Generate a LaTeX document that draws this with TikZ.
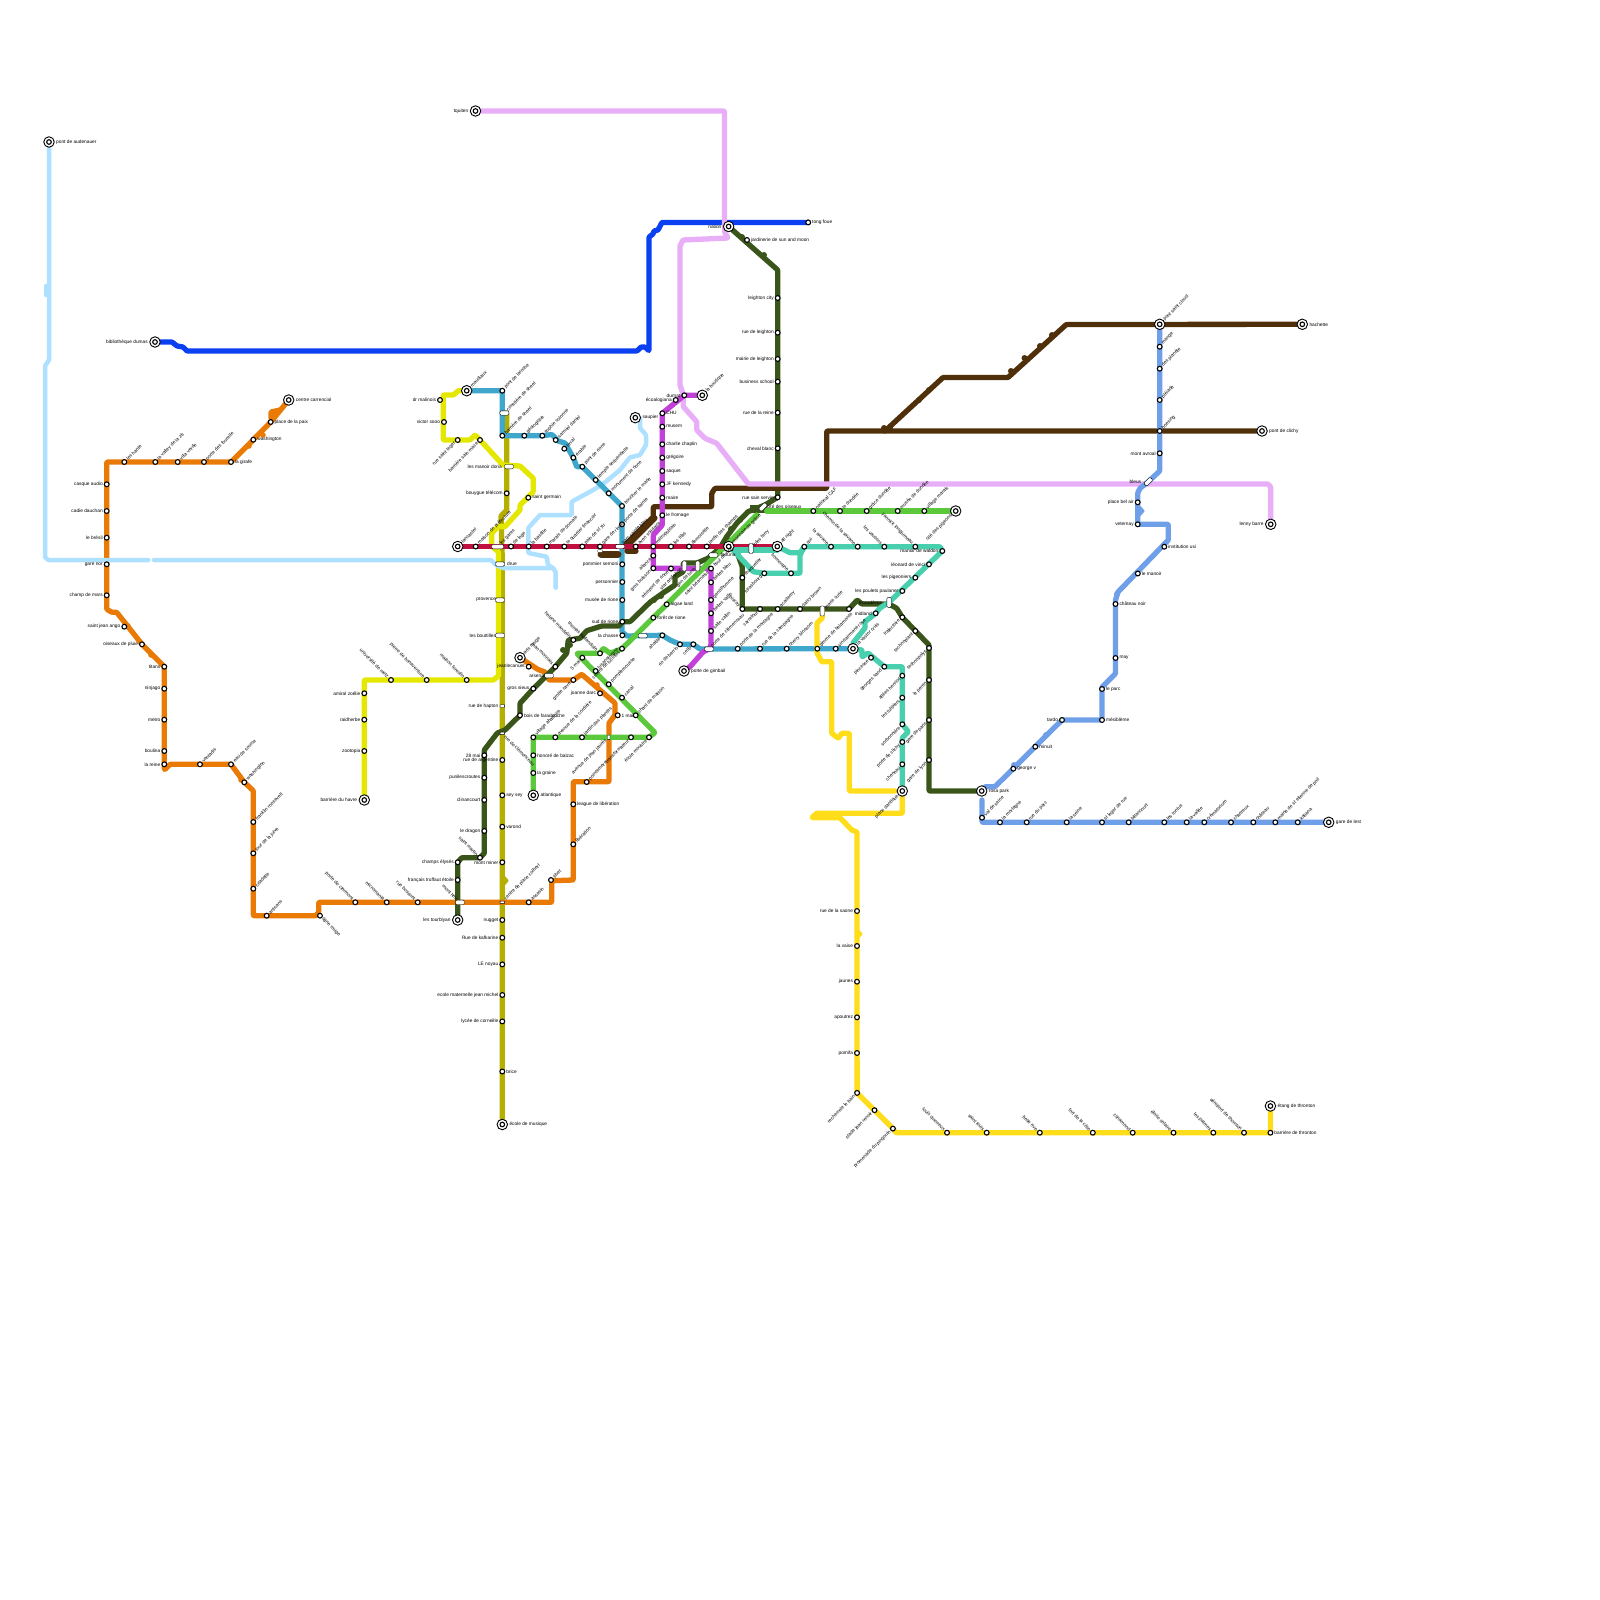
\documentclass[tikz,border=0pt]{standalone}
\usepackage{fontspec}
\setmainfont{Liberation Sans}
\usepackage{xcolor}
\usetikzlibrary{backgrounds}
\definecolor{lineorange}{RGB}{232, 122, 5}
\definecolor{lineyellow}{RGB}{228, 232, 0}
\definecolor{lineolive}{RGB}{181, 176, 0}
\definecolor{linesky}{RGB}{174, 224, 255}
\definecolor{linedeep}{RGB}{10, 63, 242}
\definecolor{linelilac}{RGB}{232, 174, 248}
\definecolor{linepetrol}{RGB}{63, 167, 204}
\definecolor{linecrimson}{RGB}{192, 16, 63}
\definecolor{linemagenta}{RGB}{192, 64, 216}
\definecolor{lineforest}{RGB}{58, 85, 25}
\definecolor{linegreen}{RGB}{92, 200, 60}
\definecolor{linemint}{RGB}{72, 207, 174}
\definecolor{linegold}{RGB}{255, 221, 26}
\definecolor{linebrown}{RGB}{80, 48, 10}
\definecolor{lineperi}{RGB}{111, 159, 232}
\tikzset{
  metro/.style={line width=5.3pt, line cap=round, line join=round, rounded corners=0.8pt},
  stn/.style={circle, draw=black, fill=white, line width=1.1pt, inner sep=0pt, minimum size=4.8pt},
  term/.style={circle, draw=black, fill=white, line width=0.9pt, inner sep=0pt, minimum size=10.5pt,
    path picture={\draw[line width=1.1pt] (path picture bounding box.center) circle (2.3pt);}},
  ibox/.style={rectangle, rounded corners=1.2pt, draw=black, fill=white, line width=0.4pt, inner sep=0pt, minimum width=9pt, minimum height=4.4pt},
  wbox/.style={ibox, minimum width=12pt},
  vbox/.style={ibox, minimum width=4.4pt, minimum height=10pt},
  sbox/.style={ibox, rounded corners=0.3pt, minimum width=4.5pt, minimum height=2.5pt},
  svbox/.style={ibox, rounded corners=0.3pt, minimum width=2.5pt, minimum height=4.5pt},
  rbox/.style={ibox, rotate=45},
  lbl/.style={font=\fontsize{4.8}{6}\selectfont, text=black, inner ysep=0pt, inner xsep=3.8pt},
  lr/.style={lbl, anchor=west},
  ll/.style={lbl, anchor=east},
  lne/.style={lbl, rotate=45, anchor=west},
  lsw/.style={lbl, rotate=45, anchor=east},
  lnw/.style={lbl, rotate=-45, anchor=east},
  lse/.style={lbl, rotate=-45, anchor=west},
  tr/.style={lr, inner xsep=7pt},
  tl/.style={ll, inner xsep=7pt},
  tne/.style={lne, inner xsep=6pt},
  tsw/.style={lsw, inner xsep=6pt}
}
\begin{document}
\begin{tikzpicture}[x=1pt, y=-1pt]
  \useasboundingbox (0,0) rectangle (1600,1600);
  % stations, line by line
  \foreach \nm/\shp/\x/\y/\p/\txt in {
    or1/term/288.7/400/tr/centre carrencial, or2/stn/270.7/422/lr/place de la paix, or3/stn/253.3/439.7/lr/washington,
    or4/stn/231/462/lr/la girafe, or5/stn/204/462/lne/porte des tourelle, or6/stn/177.7/462/lne/villa verde,
    or7/stn/155.3/462/lne/la valley de la zic, or8/stn/124.3/462/lne/les hante, or9/stn/106.7/484.3/ll/casque audio,
    or10/stn/106.7/511/ll/cadie dauchan, or11/stn/106.7/537.7/ll/le brésil, or12/stn/106.7/564.3/ll/gare nor,
    or13/stn/106.7/595.3/ll/champ de mars, or14/stn/124.3/626.7/ll/saint jean ango, or15/stn/142/644.3/ll/oiseaux de pluie,
    or16/stn/164.3/666.7/ll/titans, or17/stn/164.3/688.7/ll/ninjago, or18/stn/164.3/719.7/ll/metro,
    or19/stn/164.3/751/ll/boulina, or20/stn/164.3/764.3/ll/la reine, or21/stn/200/764.3/lne/ventadis,
    or22/stn/231/764.3/lne/eau de source, or23/stn/244.3/782.3/lne/washington, or24/stn/253.3/822/lne/franklin roosevelt,
    or25/stn/253.3/853.3/lne/tour de la juive, or26/stn/253.3/888.7/lne/citadelle, or27/stn/266.7/915.7/lne/artisans,
    or28/stn/320/915.7/lse/ligne rouge, or29/stn/355.3/902.3/lnw/porte de clermont, or30/stn/386.7/902.3/lnw/micromania,
    or31/stn/417.7/902.3/lnw/rue bossuet, or32/stn/528.7/902.3/lne/assasin, or33/stn/551/880/lne/tibet,
    or34/stn/573.3/844.3/lne/libération, or35/stn/573.3/804.3/lr/league de libération, or36/stn/586.7/782/lne/pointemere,
    or37/stn/600/693.3/ll/joanne darc, or38/stn/573.3/680/lsw/grotte cave, or39/stn/528.7/666.7/ll/jeanlecanuet,
    or40/term/520/657.7/tne/arts rouge, or41/stn/617.7/715.3/lr/1 mai, or42/ibox/549/675.7/ll/arsenal,
    or43/svbox/608.7/737.3/lsw/avenue de jean jaurès,
    ye1/term/364.3/800/tl/barrière du havre, ye2/stn/364.3/751/ll/zootopia, ye3/stn/364.3/719.7/ll/raidherbe,
    ye4/stn/364.3/693.3/ll/amiral zoélie, ye5/stn/391/680/lnw/université de metz, ye6/stn/426.7/680/lnw/pierre de bonaventure,
    ye7/stn/466.7/680/lnw/maison forestin, ye8/ibox/500/635.3/ll/les bouttilles, ye9/ibox/500/600/ll/provence,
    ye10/ibox/500/564/tr/drue, ye11/wbox/497.7/546.7/lne/les gares, ye12/stn/528.3/497.7/lr/saint germain,
    ye13/ibox/509/466.7/tl/les manoir doria, ye14/stn/480/440/lsw/barrière sain mace, ye15/stn/457.7/440/lsw/rue saint leger,
    ye16/stn/444/422/ll/victor sooo, ye17/stn/440/400/ll/dr malinois, ye18/term/466.7/390.7/tne/maudiaux,
    ol1/stn/506.7/493.3/ll/bouygue télécom, ol2/sbox/502.3/706/ll/rue de hapton, ol3/sbox/502.3/733.3/lse/rue de clémenceau,
    ol4/stn/502.3/760/ll/rue de argentine, ol5/stn/502.3/795.3/lr/sey sey, ol6/stn/502.3/826.7/lr/varond,
    ol7/stn/502.3/862.3/ll/mont miner, ol8/sbox/502.3/902.3/lne/centre de place colbert, ol9/stn/502.3/920/ll/nugget,
    ol10/stn/502.3/937.7/ll/Rue de kafkarine, ol11/stn/502.3/964.4/ll/LE noyau, ol12/stn/502.3/995/ll/ecole maternelle jean michel,
    ol13/stn/502.3/1021.4/ll/lycée de corneille, ol14/stn/502.3/1071.5/lr/brice, ol15/term/502.3/1124.5/tr/école de musique
  }{
    \node[\shp] (\nm) at (\x,\y) {};
    \node[\p] (\nm-t) at (\nm.center) {\txt};
  }
  \foreach \nm/\shp/\x/\y/\p/\txt in {
    tb1/stn/502.3/390.7/lne/pont de laroche, tb2/ibox/504.3/413/lne/cimetière de sheet, tb3/stn/502.3/435.7/lne/barrière de sheet,
    tb4/stn/524.3/435.7/lne/géologique, tb5/stn/542.3/435.7/lne/sophie colonne, tb6/stn/555.7/440/lne/samuel daniel,
    tb7/stn/564.3/448.7/lne/laval, tb8/stn/573.3/457.7/lne/érable, tb9/stn/582.3/466.7/lne/pont de rione,
    tb10/stn/595.7/480/lne/temple sequentielle, tb11/stn/608.7/493.3/lne/monument de rione, tb12/stn/622/506/lne/boucher le marie,
    tb13/stn/622/524.3/lne/porte de sainte, tb14/stn/622.3/564.3/ll/pommier semoni, tb15/stn/622.3/582/ll/personnier,
    tb16/stn/622.3/600/ll/musée de rione, tb17/stn/622.3/621.7/ll/sud de rione, tb18/stn/622.3/635.3/ll/la chasse,
    tb19/ibox/642.7/635.7/lr/, tb20/stn/662.3/635.3/lsw/ahaide, tb21/stn/680/644.3/lsw/rio de berrio, tb22/stn/693.3/644.3/lsw/cello,
    tb23/ibox/709/649/lne/porte de clémenceau, tb24/stn/737.7/648.7/lne/porte de la montagne, tb25/stn/760/648.7/lne/rue de la campagne,
    tb26/stn/786.7/648.7/lne/cherry blossom, tb27/stn/817.3/648.7/lne/gimme de belamonte, tb28/stn/835.7/648.7/lne/sinclairmane rose,
    tb29/term/853/648.7/tne/la vastor cruis,
    cr1/term/457.7/546.5/tne/lancaster, cr2/stn/475.7/546.5/lne/maison de préfecture, cr3/stn/511/546.5/lne/de loge,
    cr4/stn/528.7/546.5/lne/la bastille, cr5/stn/546.7/546.5/lne/marais de domale, cr6/stn/564.3/546.5/lne/le quartier financier,
    cr7/stn/582.3/546.5/lne/pain de st yu, cr8/stn/600/546.5/lne/gare de rione, cr9/ibox/620/546.5/lne/parc sainte bleu,
    cr10/stn/635.7/546.5/lne/aven solidaire, cr11/stn/653.3/546.5/lne/métropolitain, cr12/stn/671/546.5/lne/les tilas,
    cr13/stn/689/546.5/lne/demoiselle, cr14/stn/706.7/546.5/lne/jardin des champs, cr15/term/728.7/546.5/tne/monnaie de grâce,
    cr16/vbox/751/548.5/lne/jules ferry, cr17/term/777.3/546.5/tne/all night, cr18/sbox/600/551/lr/,
    mg1/term/702.3/395.3/tne/la boutique, mg2/stn/684.3/395.3/ll/durnat, mg3/stn/675.7/400/ll/écoalogiana,
    mg4/stn/662.3/413.3/lr/CHU, mg5/stn/662.3/426.7/lr/musem, mg6/stn/662.3/444.3/lr/charlie chaplin,
    mg7/stn/662.3/457.7/lr/grégoire, mg8/stn/662.3/471/lr/saquet, mg9/stn/662.3/484.3/lr/JF kennedy,
    mg10/stn/662.3/497.7/lr/maire, mg11/stn/662.3/515.3/lr/le fromage, mg12/stn/653.3/555.7/lsw/aliance,
    mg13/stn/653.3/568.3/lsw/gros buisson, mg14/stn/671/568.5/lsw/aéroport de rione, mg15/vbox/684.3/566/lsw/star and shop,
    mg16/vbox/697.7/566/lsw/gen de lune, mg17/stn/711/568.5/lne/boul de cine, mg18/stn/711/582.3/lne/belles bleu,
    mg19/stn/711/600/lne/gentilhomme, mg20/stn/711/613.3/lne/belles vallin, mg21/stn/711/631/lne/salle vallin,
    mg22/term/684/671/tr/porte de gimbail
  }{
    \node[\shp] (\nm) at (\x,\y) {};
    \node[\p] (\nm-t) at (\nm.center) {\txt};
  }
  \node[lsw] (mg17-w) at (mg17.center) {saint béarnaise};
  \foreach \nm/\shp/\x/\y/\p/\txt in {
    dg1/term/728.6/226.5/tl/nation, dg2/stn/747/240/lr/jardinerie de sun and moon, dg3/stn/777.7/298/ll/leighton city,
    dg4/stn/777.7/332.7/ll/rue de leighton, dg5/stn/777.7/359/ll/mairie de leighton, dg6/stn/777.7/381.7/ll/business school,
    dg7/stn/777.7/412.7/ll/rue de la reine, dg8/stn/777.7/448.3/ll/cheval blanc, dg9/stn/777.7/497.3/ll/rue sain servin,
    dg10/stn/742.3/577.7/lne/chaquetier, dg11/stn/742.3/609/lnw/biscay, dg12/stn/760/609/lsw/carrefour,
    dg13/stn/777.7/609/lne/academy, dg14/stn/800/609/lne/daisy brown, dg15/vbox/822.3/611/lne/marie curie,
    dg16/stn/849/609/lr/, dg17/stn/902.3/617.3/lsw/trajectoire, dg18/stn/915.3/631/lsw/technoplant,
    dg19/stn/929/648/lsw/technopolys, dg20/stn/929/680/lsw/le perrin, dg21/stn/929/720/lsw/gare de paris,
    dg22/stn/929/760/lsw/gare de lyon, dg23/term/981.7/791/tr/rosa park,
    dg24/stn/573.3/640/lnw/helene mandelin, dg25/stn/555.3/666.7/lnw/jean monnais, dg26/stn/533.3/688.7/ll/gros sieus,
    dg27/stn/520/715.3/lr/bois de faradouche, dg28/stn/484.3/755.3/ll/28 mai, dg29/stn/484.3/777.7/ll/punilescroutes,
    dg30/stn/484.3/800/ll/clinancourt, dg31/stn/484.3/831/ll/le dragon, dg32/stn/480/857.7/lnw/saint martin,
    dg33/stn/457.7/862.3/ll/champs élysés, dg34/stn/457.7/880/ll/français truffaut étoile, dg35/ibox/460/902.3/lnw/mont heu,
    dg36/term/457.7/920/tl/les tourblyan,
    gr1/term/955.7/511/tsw/cité des pigeons, gr2/stn/924.3/511/lne/village marais, gr3/stn/897.7/511/lne/musée de dundée,
    gr4/stn/866.7/511/lne/grâce dundée, gr5/stn/840/511/lne/le dundée, gr6/stn/813.3/511/lne/national CAF,
    gr7/rbox/763/507/lr/cité des oiseaux, gr8/stn/666.7/604.3/lr/algae land, gr9/stn/653.3/617.7/lr/forêt de rione,
    gr10/stn/622/648.7/lsw/centre de lucioles, gr11/stn/600/653.3/lnw/thomas hollandiste, gr12/stn/582.3/657.7/lsw/5 mai,
    gr13/stn/595.7/671/lne/lusanstorgne, gr14/stn/608.7/684.3/lne/pomplemousse, gr15/stn/622/697.7/lne/canal,
    gr16/stn/635.7/715.3/lne/chant de maison, gr17/stn/649/737.3/lsw/école moustre, gr18/stn/631/737.3/lsw/transformateur,
    gr19/stn/582/737.3/lne/jardin des plantes, gr20/stn/555.3/737.3/lne/avenue de la cordière, gr21/stn/533.3/737.3/lne/village abattoire,
    gr22/stn/533.3/755.3/lr/honoré de balzac, gr23/stn/533.3/773/lr/la graine, gr24/term/533.3/795.3/tr/atlantique
  }{
    \node[\shp] (\nm) at (\x,\y) {};
    \node[\p] (\nm-t) at (\nm.center) {\txt};
  }
  \foreach \nm/\shp/\x/\y/\p/\txt in {
    mi1/stn/804.3/546.7/lne/qui, mi2/stn/831/546.7/lnw/la savane, mi3/stn/857.7/546.7/lnw/chemin de la savane,
    mi4/stn/884.3/546.7/lnw/les vautrins, mi5/stn/915.3/546.7/lnw/yannick longjumeau, mi6/stn/942.3/551/ll/manoir de waldon,
    mi7/stn/929/564.3/ll/léonard de vinci, mi8/stn/915.3/577.7/ll/les pigeoniers, mi9/stn/902.3/591/ll/les poulets paulaner,
    mi10/vbox/889/602.3/tl/trosadères, mi11/stn/875.7/613.3/ll/midland, mi12/stn/791/573.3/lnw/fromentine,
    mi13/stn/764.3/573.3/lsw/strasbourg, mi14/stn/871/657.7/lsw/pincesse, mi15/stn/884.3/666.7/lsw/georges sand,
    mi16/stn/902.3/675.7/lsw/allées henriot, mi17/stn/902.3/697.7/lsw/les tulipiers, mi18/stn/902.3/724.3/lsw/sorbonnière,
    mi19/stn/902.3/742/lsw/porte de clichy, mi20/stn/902.3/764.3/lsw/cheneau, mi21/term/902.3/791/tsw/place dantique,
    mi22/ibox/713.3/555/tr/fortuna,
    go1/stn/857/911/ll/rue de la saone, go2/stn/857/946/ll/la vaise, go3/stn/857/981.7/ll/jaunes,
    go4/stn/857/1017.3/ll/apoutrez, go5/stn/857/1053/ll/pomifa, go6/stn/857.1/1092.9/lsw/recherrele le bain,
    go7/stn/874.5/1110.2/lsw/stade jean renoir, go8/stn/892.9/1128.6/lsw/promenade du pingouin, go9/stn/947/1132.7/lnw/louis querreux,
    go10/stn/986.7/1132.7/lnw/saint louis, go11/stn/1039.8/1132.7/lnw/belle rive, go12/stn/1092.8/1132.7/lnw/fort de la côte,
    go13/stn/1132.7/1132.7/lnw/clinamond, go14/stn/1173.5/1132.7/lnw/étoile solaire, go15/stn/1213.3/1132.7/lnw/les palmes,
    go16/stn/1244/1132.7/lnw/aéroport de thornton, go17/stn/1270.4/1132.7/lr/barrière de thronton, go18/term/1270.4/1106/tr/étang de thronton,
    pe1/term/1159.7/324.3/tne/pont saint cloud, pe2/stn/1159.7/346.7/lne/mange, pe3/stn/1159.7/368.7/lne/des planète,
    pe4/stn/1159.7/400/lne/pléiade, pe5/stn/1159.7/431/lne/boesing, pe6/stn/1159.7/453.3/ll/mont avroal,
    pe7/stn/1137.7/502.3/ll/place bel air, pe8/stn/1137.7/524.3/ll/veternay, pe9/stn/1164.3/546.7/lr/institution usi,
    pe10/stn/1137.8/573.5/lr/le manoir, pe11/stn/1115.5/604/lr/château noir, pe12/stn/1115.5/658/lr/may,
    pe13/stn/1102/689/lr/le parc, pe14/stn/1102/720/lr/mésiblème, pe15/stn/1062/720/ll/tardo,
    pe16/stn/1035.3/746.7/lr/minuit, pe17/stn/1013.3/768.7/lr/george v, pe18/stn/982/817.7/lne/val de seine,
    pe19/stn/1000/822.3/lne/la mortagne, pe20/stn/1026.7/822.3/lne/rue du parc, pe21/stn/1066.7/822.3/lne/la seine,
    pe22/stn/1102/822.3/lne/st leger de rue, pe23/stn/1128.7/822.3/lne/billancourt, pe24/stn/1164.3/822.3/lne/les tontus,
    pe25/stn/1186.7/822.3/lne/la vallée, pe26/stn/1204.3/822.3/lne/crématorium, pe27/stn/1231/822.3/lne/chartreux,
    pe28/stn/1253.3/822.3/lne/château, pe29/stn/1275.3/822.3/lne/mairie de st etienne de poil, pe30/stn/1297.7/822.3/lne/kaliana,
    pe31/term/1328.7/822.3/tr/gare de lest, pe32/rbox/1148.3/481.7/tl/bleus,
    br1/term/1302.3/324.3/tr/hachette, br2/term/1262/431/tr/pont de clichy,
    db1/term/155/342/tl/bibliothèque dumas, db2/stn/808.2/222.4/lr/tong foue,
    li1/term/475.5/111/tl/tquiten, li2/term/1270.7/524.3/tl/lenny barre,
    lb1/term/49/142/tr/pont de audenauer, lb2/term/635.3/417.7/tr/saupier
  }{
    \node[\shp] (\nm) at (\x,\y) {};
    \node[\p] (\nm-t) at (\nm.center) {\txt};
  }
  % the lines go under the stations
  \begin{scope}[on background layer, every path/.append style={metro}]
    \draw[lineolive] (tb2.center) -- (506.7,413) -- (506.7,510) -- (501,516) -- (502.3,560) -- (ol15.center);
    \fill[lineolive] (502.3,873) -- (509,880.7) -- (502.3,888) -- cycle;
    \draw[lineyellow] (ye1.center) -- (364.3,680) -- (493.3,680) -- (498.5,676) -- (498.5,552) -- (491.7,546) -- (491.7,533) -- (498.3,526.7) -- (505,526.7) -- (520,510) -- (520,505) -- (533.3,491.7) -- (533.3,478.3) -- (520,466) -- (503,465) -- (480,440) -- (475,435) -- (470,440) -- (443.3,440) -- (443.3,395) -- (453.3,395) -- (458.3,390.7) -- (ye18.center);
    \draw[lineorange] (or1.center) -- (or2.center) -- (or3.center) -- (or4.center) -- (106.7,462) -- (106.7,609.3) -- (112,612.3) -- (116.7,612.3) -- (or15.center) -- (or16.center) -- (164.3,770) -- (170,764.3) -- (or22.center) -- (or23.center) -- (253.3,790.7) -- (253.3,915.7) -- (316,915.7) -- (318.7,912) -- (318.7,902.3) -- (551.7,902.3) -- (551.7,880.7) -- (573.3,880) -- (573.3,781.7) -- (609,781.7) -- (609,723) -- (615,715) -- (615,703) -- (581.7,674.3) -- (or38.center) -- (549,680) -- (545,672) -- (538,669.5) -- (or40.center);
    \draw[lineorange] (271,418) -- (271,412) -- (280,410);
    \foreach \x/\y in {263/435, 249/446, 128/626, 151/655, 241/780, 597/685}{
      \fill[lineorange] (\x,\y) circle (2.8pt);
    }
    \draw[linesky, line width=4.5pt] (lb1.center) -- (49,360) -- (45,366) -- (45,557) -- (48,560) -- (148.3,560);
    \draw[linesky, line width=4.5pt] (46,286) -- (46,295);
    \draw[linesky, line width=4.5pt] (154,560) -- (491,560) -- (496,565) -- (503,568) -- (553,568) -- (555.7,572) -- (555.7,587.7);
    \draw[linesky, line width=4.5pt] (lb2.center) -- (640,418) -- (640,428) -- (646,435) -- (646,445) -- (640,455) -- (630,457.3) -- (620,470) -- (601.7,485) -- (590,491.7) -- (571.7,501.7) -- (571.7,515) -- (540,515) -- (528.3,528) -- (528.3,553) -- (546.7,556.7) -- (548,565) -- (553,568);
    \draw[linedeep] (db1.center) -- (172,342) -- (177,346) -- (183,347) -- (187,351) -- (637,351) -- (641,347) -- (645,347) -- (649,351) -- (649,237) -- (653,234) -- (654,231) -- (658,230) -- (662,222.4) -- (db2.center);
    \draw[linepetrol] (ye18.center) -- (tb1.center) -- (tb3.center) -- (tb5.center) -- (552,434.5) -- (558,441) -- (565,443) -- (tb8.center) -- (576.7,466.7) -- (tb9.center) -- (tb12.center) -- (622,632) -- (627,636) -- (tb20.center) -- (670,640) -- (tb21.center) -- (tb22.center) -- (700,649) -- (tb29.center);
    \draw[lineforest] (dg1.center) -- (777.7,270) -- (dg9.center) -- (765,505) -- (748,511.7) -- (736.7,523.3) -- (726.7,536.7) -- (cr15.center) -- (737,552) -- (742.3,567) -- (dg11.center) -- (dg16.center) -- (857.3,600) -- (861.7,604) -- (889,604) -- (896.7,608.3) -- (dg17.center) -- (929,645) -- (929,791) -- (dg23.center);
    \draw[lineforest, line width=8pt, line cap=butt] (750,509) -- (767,509);
    \draw[lineforest] (726.7,536.7) -- (720,548) -- (708,558.3) -- (697,563) -- (683.3,563) -- (683.3,571.7) -- (675,576.7) -- (675,585) -- (663,593) -- (650,602.3) -- (630,621.7) -- (tb17.center) -- (619,626) -- (601.7,626) -- (586.7,630.7) -- (580,638.3) -- (568.3,640) -- (566.7,653.3) -- (dg25.center) -- (dg26.center) -- (520,703.3) -- (dg27.center) -- (505,730) -- (497.3,733) -- (484.3,750) -- (484.3,853.3) -- (dg32.center) -- (461.7,857.7) -- (dg33.center) -- (dg36.center);
    \foreach \x/\y in {764/255, 742/237, 563/650, 570/645, 654/600, 661/596, 731/529, 740/520}{
      \fill[lineforest] (\x,\y) circle (3pt);
    }
    \draw[linebrown] (br1.center) -- (1066.3,324.5) -- (1008,377.5) -- (943,377.5) -- (885,431);
    \foreach \x/\y in {1052/335, 1040/346, 1024.5/358, 1011/371, 929/390, 919/400, 884/428, 890/428}{
      \fill[linebrown] (\x,\y) circle (3pt);
    }
    \draw[linebrown] (br2.center) -- (826.7,431) -- (826.7,488.3) -- (715,488.3) -- (711.7,493.3) -- (711.7,506.7) -- (653.3,506.7) -- (653.3,516.7) -- (626.7,543.3);
    \draw[linebrown] (655,518) -- (628,545);
    \draw[linebrown, line width=7pt] (601,554) -- (618,554);
    \draw[linebrown] (627,551) -- (636,551);
    \draw[linelilac] (li1.center) -- (724.5,111) -- (724.5,232) -- (728,238) -- (683,240) -- (680,246) -- (680,385) -- (683.3,395) -- (683.3,406.7) -- (696.7,421.7) -- (696.7,430) -- (705,438.3) -- (716.7,443.3) -- (748.3,484) -- (1268,484) -- (1270.7,487) -- (li2.center);
    \draw[linemagenta] (mg1.center) -- (mg2.center) -- (mg4.center) -- (mg11.center) -- (662.3,525) -- (653.3,535) -- (mg13.center) -- (mg17.center) -- (711,645) -- (tb23.center) -- (703,652) -- (690,666.7) -- (mg22.center);
    \draw[linegreen] (gr1.center) -- (766.7,511);
    \draw[linegreen] (756.7,515) -- (gr10.center) -- (610,653.3) -- (603.3,648.3) -- (gr11.center) -- (576.7,653.3) -- (655,732.7) -- (gr17.center) -- (gr21.center) -- (gr24.center);
    \draw[linecrimson] (cr1.center) -- (cr17.center);
    \draw[linemint] (cr15.center) -- (735,552) -- (753.3,571.7) -- (mi13.center) -- (800,573.3) -- (800,555) -- (mi1.center);
    \draw[linemint] (735,550) -- (777.3,550);
    \draw[linemint] (cr17.center) -- (790,552.7) -- (800,552.7) -- (mi1.center) -- (940,546.7) -- (mi6.center) -- (mi10.center) -- (880,608) -- (mi11.center) -- (865,621.7) -- (865,628) -- (853,643) -- (tb29.center) -- (862,650) -- (862,657) -- (868,653) -- (mi15.center) -- (902.3,666.7) -- (mi18.center) -- (908.3,731.7) -- (902.3,737.7) -- (mi21.center);
    \draw[linegold] (dg15.center) -- (822.3,618) -- (817,623) -- (817,653) -- (821.7,661.7) -- (831.7,661.7) -- (831.7,733.3) -- (838.3,738.3) -- (841.7,733.3) -- (849.3,733.3) -- (849.3,791) -- (895,791);
    \draw[linegold] (mi21.center) -- (902.3,813.3) -- (816.7,813.3) -- (811.7,817.7) -- (840,817.7) -- (851.7,830) -- (857,832) -- (go6.center) -- (go8.center) -- (896,1132.7) -- (go17.center) -- (go18.center);
    \fill[linegold] (857,928) -- (863,934) -- (857,940) -- cycle;
    \draw[lineperi] (pe1.center) -- (1159.7,471) -- (pe32.center) -- (1140,488.3) -- (1137.7,493) -- (pe8.center) -- (1168.3,524.3) -- (1168.3,540) -- (1118,592) -- (1115.5,600) -- (1115.5,673.5) -- (1102,687) -- (pe14.center) -- (pe15.center) -- (995,786.7) -- (985,786.7) -- (dg23.center);
    \fill[lineperi] (1137.7,503) -- (1145,511) -- (1137.7,519) -- cycle;
    \foreach \x/\y in {1046/735, 1014/765, 1117/594}{
      \fill[lineperi] (\x,\y) circle (3pt);
    }
    \draw[lineperi] (982,800) -- (982,822.3) -- (pe31.center);
  \end{scope}
\end{tikzpicture}
\end{document}
